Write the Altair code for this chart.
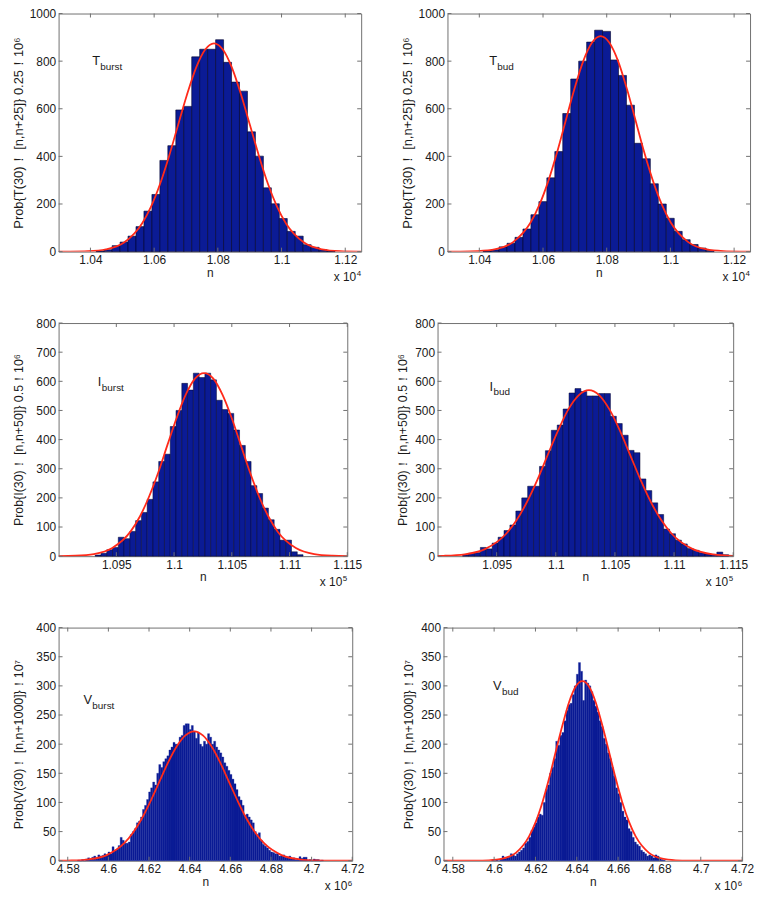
import altair as alt
import pandas as pd

# ---------------- data ----------------
# Histogram bins: first left edge, bin width, bar heights (x in units of the axis multiplier)
t_burst_edge, t_burst_bw = 1.0418, 0.0025
t_burst_counts = [3, 8, 25, 40, 65, 105, 170, 240, 383, 445, 595, 610, 818, 850, 850,
                  890, 795, 712, 674, 503, 401, 268, 201, 139, 85, 65, 29, 18, 8, 2]

t_bud_edge, t_bud_bw = 1.0412, 0.0025
t_bud_counts = [3, 8, 20, 35, 60, 95, 155, 210, 310, 420, 580, 725, 800, 880, 930,
                925, 805, 740, 615, 455, 390, 285, 200, 140, 85, 50, 30, 15, 5]

i_burst_edge, i_burst_bw = 1.09317, 0.0005
i_burst_counts = [4, 10, 22, 30, 65, 60, 85, 122, 150, 195, 255, 325, 350, 445, 500, 593,
                  570, 628, 613, 628, 605, 535, 503, 490, 433, 380, 325, 242, 215, 165,
                  125, 92, 55, 55, 15, 5]

i_bud_edge, i_bud_bw = 1.09212, 0.0005
i_bud_counts = [5, 10, 12, 30, 25, 45, 65, 88, 107, 155, 200, 240, 240, 308, 362, 432,
                450, 505, 560, 575, 565, 550, 550, 558, 558, 480, 455, 415, 363, 355,
                265, 225, 183, 143, 93, 77, 55, 42, 26, 20, 12, 8, 6, 14, 5]

v_burst_edge, v_burst_bw = 4.5848, 0.001
v_burst_counts = [1, 0, 2, 0, 3, 5, 3, 6, 8, 5,
                  10, 8, 9, 12, 10, 15, 12, 24, 18, 20,
                  26, 40, 35, 30, 30, 32, 45, 50, 55, 65,
                  68, 75, 88, 95, 105, 118, 125, 135, 130, 150,
                  165, 160, 170, 175, 180, 190, 195, 203, 200, 200,
                  212, 215, 232, 235, 235, 225, 232, 222, 210, 220,
                  200, 196, 205, 200, 218, 212, 200, 205, 195, 190,
                  185, 178, 168, 162, 155, 148, 140, 132, 122, 110,
                  104, 95, 78, 80, 75, 70, 65, 50, 45, 48,
                  35, 28, 25, 22, 18, 15, 14, 12, 12, 8,
                  9, 10, 6, 6, 8, 4, 5, 2, 3, 7,
                  4, 6, 6, 1, 2, 0, 3, 2, 2, 0,
                  1]

v_bud_edge, v_bud_bw = 4.5988, 0.001
v_bud_counts = [1, 0, 2, 0, 3, 8, 4, 5, 6, 12,
                10, 8, 12, 15, 18, 22, 30, 33, 40, 52,
                58, 65, 75, 80, 78, 100, 122, 130, 150, 160,
                175, 205, 198, 215, 220, 240, 258, 268, 270, 285,
                300, 320, 340, 325, 275, 310, 305, 300, 290, 275,
                265, 255, 240, 230, 210, 200, 185, 175, 160, 145,
                125, 115, 100, 85, 75, 70, 55, 50, 40, 32,
                28, 25, 18, 15, 12, 8, 10, 8, 5, 10,
                8, 3, 2, 1]

# Fitted curves
t_burst_cx = [1.03, 1.0336, 1.03925, 1.0449, 1.05055, 1.0562, 1.05903, 1.06185, 1.06468, 1.0675,
              1.07033, 1.07315, 1.07598, 1.0788, 1.08163, 1.08445, 1.08728, 1.0901, 1.09293,
              1.09575, 1.09858, 1.1014, 1.10705, 1.1127, 1.11835, 1.124, 1.125]
t_burst_cy = [0.1, 0.3, 1.9, 9.7, 38, 118, 189, 284, 401, 531, 660, 772, 848, 875, 848, 772,
              660, 531, 401, 284, 189, 118, 38, 9.7, 1.9, 0.3, 0.2]

t_bud_cx = [1.03, 1.0341, 1.0396, 1.0451, 1.0506, 1.0561, 1.05885, 1.0616, 1.06435, 1.0671,
            1.06985, 1.0726, 1.07535, 1.0781, 1.08085, 1.0836, 1.08635, 1.0891, 1.09185,
            1.0946, 1.09735, 1.1001, 1.1056, 1.1111, 1.1166, 1.1221, 1.125]
t_bud_cy = [0.1, 0.3, 2, 10, 40, 122, 196, 294, 414, 549, 683, 799, 877, 905, 877, 799,
            683, 549, 414, 294, 196, 122, 40, 10, 2, 0.3, 0.1]

i_burst_cx = [1.09, 1.09147, 1.09306, 1.09465, 1.09624, 1.09704, 1.09783, 1.09863, 1.09942,
              1.10022, 1.10101, 1.10181, 1.1026, 1.1034, 1.10419, 1.10499, 1.10578, 1.10658,
              1.10737, 1.10817, 1.10896, 1.11055, 1.11214, 1.11373, 1.115]
i_burst_cy = [0.2, 1.4, 7, 28, 85, 136, 204, 287, 381, 474, 554, 609, 628, 609, 554, 474,
              381, 287, 204, 136, 85, 28, 7, 1.4, 0.2]

i_bud_cx = [1.09, 1.09055, 1.0923, 1.09405, 1.0958, 1.09668, 1.09755, 1.09843, 1.0993, 1.10018,
            1.10105, 1.10193, 1.1028, 1.10368, 1.10455, 1.10543, 1.1063, 1.10718, 1.10805,
            1.10893, 1.1098, 1.11155, 1.1133, 1.115]
i_bud_cy = [0.7, 1.3, 6.3, 25, 77, 123, 185, 261, 346, 430, 503, 552, 570, 552, 503, 430,
            346, 261, 185, 123, 77, 25, 6.3, 1.2]

v_burst_cx = [4.5755, 4.582, 4.5906, 4.5992, 4.6078, 4.6121, 4.6164, 4.6207, 4.625, 4.6293,
              4.6336, 4.6379, 4.6422, 4.6465, 4.6508, 4.6551, 4.6594, 4.6637, 4.668, 4.6723,
              4.6766, 4.6852, 4.6938, 4.7024, 4.711, 4.72]
v_burst_cy = [0.1, 0.5, 2.5, 9.7, 30, 48, 72, 102, 135, 168, 196, 215, 222, 215, 196, 168,
              135, 102, 72, 48, 30, 9.7, 2.5, 0.5, 0.1, 0]

v_bud_cx = [4.5755, 4.5911, 4.5975, 4.604, 4.6105, 4.6169, 4.62013, 4.62335, 4.62658, 4.6298,
            4.63303, 4.63625, 4.63948, 4.6427, 4.64593, 4.64915, 4.65238, 4.6556, 4.65883,
            4.66205, 4.66528, 4.6685, 4.67495, 4.6814, 4.68785, 4.6943, 4.72]
v_bud_cy = [0, 0.1, 0.7, 3.4, 13.5, 41.7, 66.6, 100, 141, 187, 232, 272, 299, 308, 299, 272,
            232, 187, 141, 100, 66.6, 41.7, 13.5, 3.4, 0.7, 0.1, 0]

# Axes: domains and tick values
x_dom_t, x_ticks_t = [1.03, 1.125], [1.04, 1.06, 1.08, 1.1, 1.12]
x_dom_i, x_ticks_i = [1.09, 1.115], [1.095, 1.1, 1.105, 1.11, 1.115]
x_dom_v, x_ticks_v = [4.5755, 4.72], [4.58, 4.6, 4.62, 4.64, 4.66, 4.68, 4.7, 4.72]
y_dom_t, y_ticks_t = [0, 1000], [0, 200, 400, 600, 800, 1000]
y_dom_i, y_ticks_i = [0, 800], [0, 100, 200, 300, 400, 500, 600, 700, 800]
y_dom_v, y_ticks_v = [0, 400], [0, 50, 100, 150, 200, 250, 300, 350, 400]

y_title_t = "Prob{T(30)！ [n,n+25]} 0.25！10⁶"
y_title_i = "Prob{I(30)！ [n,n+50]} 0.5！10⁶"
y_title_v = "Prob{V(30)！ [n,n+1000]}！10⁷"

# panel annotations: main letter, subscript, anchor (data coords)
labels = {
    "t_burst": ("T", "burst", 1.0406, 800),
    "t_bud": ("T", "bud", 1.0431, 800),
    "i_burst": ("I", "burst", 1.0934, 598),
    "i_bud": ("I", "bud", 1.0944, 582),
    "v_burst": ("V", "burst", 4.5877, 275),
    "v_bud": ("V", "bud", 4.5995, 300),
}

# ---------------- styling ----------------
FONT = "Liberation Sans"
AX = "#707070"
TXT = "#1a1a1a"
BAR = "#0b1b95"
RED = "#ff2a1a"


def panel(key, edge, bw, counts, cx, cy, xdom, xticks, ydom, yticks, ytitle, exp, W, H, sdx,
          edge_col, edge_w, tfs, tpad):
    xs = alt.Scale(domain=xdom, nice=False, zero=False)
    ys = alt.Scale(domain=ydom, nice=False, zero=False)
    xaxis = alt.Axis(values=xticks, format="~g", title="n", titleFontSize=12,
                     labelPadding=3, titlePadding=2)
    yaxis = alt.Axis(values=yticks, format="d", title=ytitle, titleFontSize=tfs,
                     labelPadding=3, titlePadding=tpad)

    def X(f):
        return alt.X(f, type="quantitative", scale=xs, axis=xaxis)

    def Y(f):
        return alt.Y(f, type="quantitative", scale=ys, axis=yaxis)

    n = len(counts)
    bars = pd.DataFrame({
        "x0": [edge + i * bw for i in range(n)],
        "x1": [edge + (i + 1) * bw for i in range(n)],
        "c": counts,
    })
    bar_layer = alt.Chart(bars).mark_rect(fill=BAR, stroke=edge_col,
                                          strokeWidth=edge_w).encode(
        x=X("x0"), x2="x1:Q", y=Y("c"), y2=alt.datum(0))
    curve = pd.DataFrame({"cx": cx, "cy": cy})
    line = alt.Chart(curve).mark_line(color=RED, strokeWidth=1.8, interpolate="monotone",
                                      clip=True).encode(x=X("cx"), y=Y("cy"))
    xt = pd.DataFrame({"v": xticks})
    yt = pd.DataFrame({"v": yticks})
    tick_top = alt.Chart(xt).mark_rule(color=AX, strokeWidth=1).encode(
        x=X("v"), y=alt.value(0), y2=alt.value(4))
    tick_bot = alt.Chart(xt).mark_rule(color=AX, strokeWidth=1).encode(
        x=X("v"), y=alt.value(H), y2=alt.value(H - 4))
    tick_l = alt.Chart(yt).mark_rule(color=AX, strokeWidth=1).encode(
        y=Y("v"), x=alt.value(0), x2=alt.value(4))
    tick_r = alt.Chart(yt).mark_rule(color=AX, strokeWidth=1).encode(
        y=Y("v"), x=alt.value(W - 4), x2=alt.value(W))

    m, s, lx, ly = labels[key]
    lab = pd.DataFrame({"lx": [lx], "ly": [ly], "m": [m], "s": [s]})
    main_t = alt.Chart(lab).mark_text(align="left", baseline="middle", font=FONT, fontSize=13,
                                      color=TXT).encode(x=X("lx"), y=Y("ly"), text="m:N")
    sub_t = alt.Chart(lab).mark_text(align="left", baseline="middle", font=FONT, fontSize=10,
                                     color=TXT, dx=sdx, dy=6).encode(
        x=X("lx"), y=Y("ly"), text="s:N")

    mdf = pd.DataFrame({"b": ["x 10"], "e": [exp]})
    mult_b = alt.Chart(mdf).mark_text(align="right", baseline="alphabetic", font=FONT,
                                      fontSize=12, color=TXT).encode(
        x=alt.value(W - 5), y=alt.value(H + 30), text="b:N")
    mult_e = alt.Chart(mdf).mark_text(align="left", baseline="alphabetic", font=FONT,
                                      fontSize=8, color=TXT).encode(
        x=alt.value(W - 4.5), y=alt.value(H + 25), text="e:N")

    return alt.layer(bar_layer, line, tick_top, tick_bot, tick_l, tick_r,
                     main_t, sub_t, mult_b, mult_e).properties(width=W, height=H)


p1 = panel("t_burst", t_burst_edge, t_burst_bw, t_burst_counts, t_burst_cx, t_burst_cy,
           x_dom_t, x_ticks_t, y_dom_t, y_ticks_t, y_title_t, "4", 305, 240, 8,
           "#00002a", 0.6, 13, 4)
p2 = panel("t_bud", t_bud_edge, t_bud_bw, t_bud_counts, t_bud_cx, t_bud_cy,
           x_dom_t, x_ticks_t, y_dom_t, y_ticks_t, y_title_t, "4", 305, 240, 8,
           "#00002a", 0.6, 13, 4)
p3 = panel("i_burst", i_burst_edge, i_burst_bw, i_burst_counts, i_burst_cx, i_burst_cy,
           x_dom_i, x_ticks_i, y_dom_i, y_ticks_i, y_title_i, "5", 291, 235, 4,
           "#00002a", 0.5, 12.5, 10.5)
p4 = panel("i_bud", i_bud_edge, i_bud_bw, i_bud_counts, i_bud_cx, i_bud_cy,
           x_dom_i, x_ticks_i, y_dom_i, y_ticks_i, y_title_i, "5", 298, 235, 4,
           "#00002a", 0.5, 12.5, 5)
p5 = panel("v_burst", v_burst_edge, v_burst_bw, v_burst_counts, v_burst_cx, v_burst_cy,
           x_dom_v, x_ticks_v, y_dom_v, y_ticks_v, y_title_v, "6", 296, 235, 9,
           BAR, 0.3, 12.5, 10)
p6 = panel("v_bud", v_bud_edge, v_bud_bw, v_bud_counts, v_bud_cx, v_bud_cy,
           x_dom_v, x_ticks_v, y_dom_v, y_ticks_v, y_title_v, "6", 301, 235, 9,
           BAR, 0.3, 12.5, 5)

row1 = alt.hconcat(p1, p2, spacing=38)
row2 = alt.hconcat(p3, p4, spacing=33)
row3 = alt.hconcat(p5, p6, spacing=37)

chart = alt.concat(row1, row2, row3, columns=1, spacing=32, align="none").properties(
    padding={"left": 3, "top": -5, "right": 0, "bottom": 0}
).configure(background="white").configure_view(
    stroke=AX, strokeWidth=1
).configure_axis(
    labelFont=FONT, titleFont=FONT, labelColor=TXT, titleColor=TXT, titleFontWeight="normal",
    grid=False, ticks=False, domain=False, labelFontSize=12, labelFlush=False,
    labelOverlap=False
)

chart.save("out.html", embed_options={"renderer": "svg", "actions": False})
